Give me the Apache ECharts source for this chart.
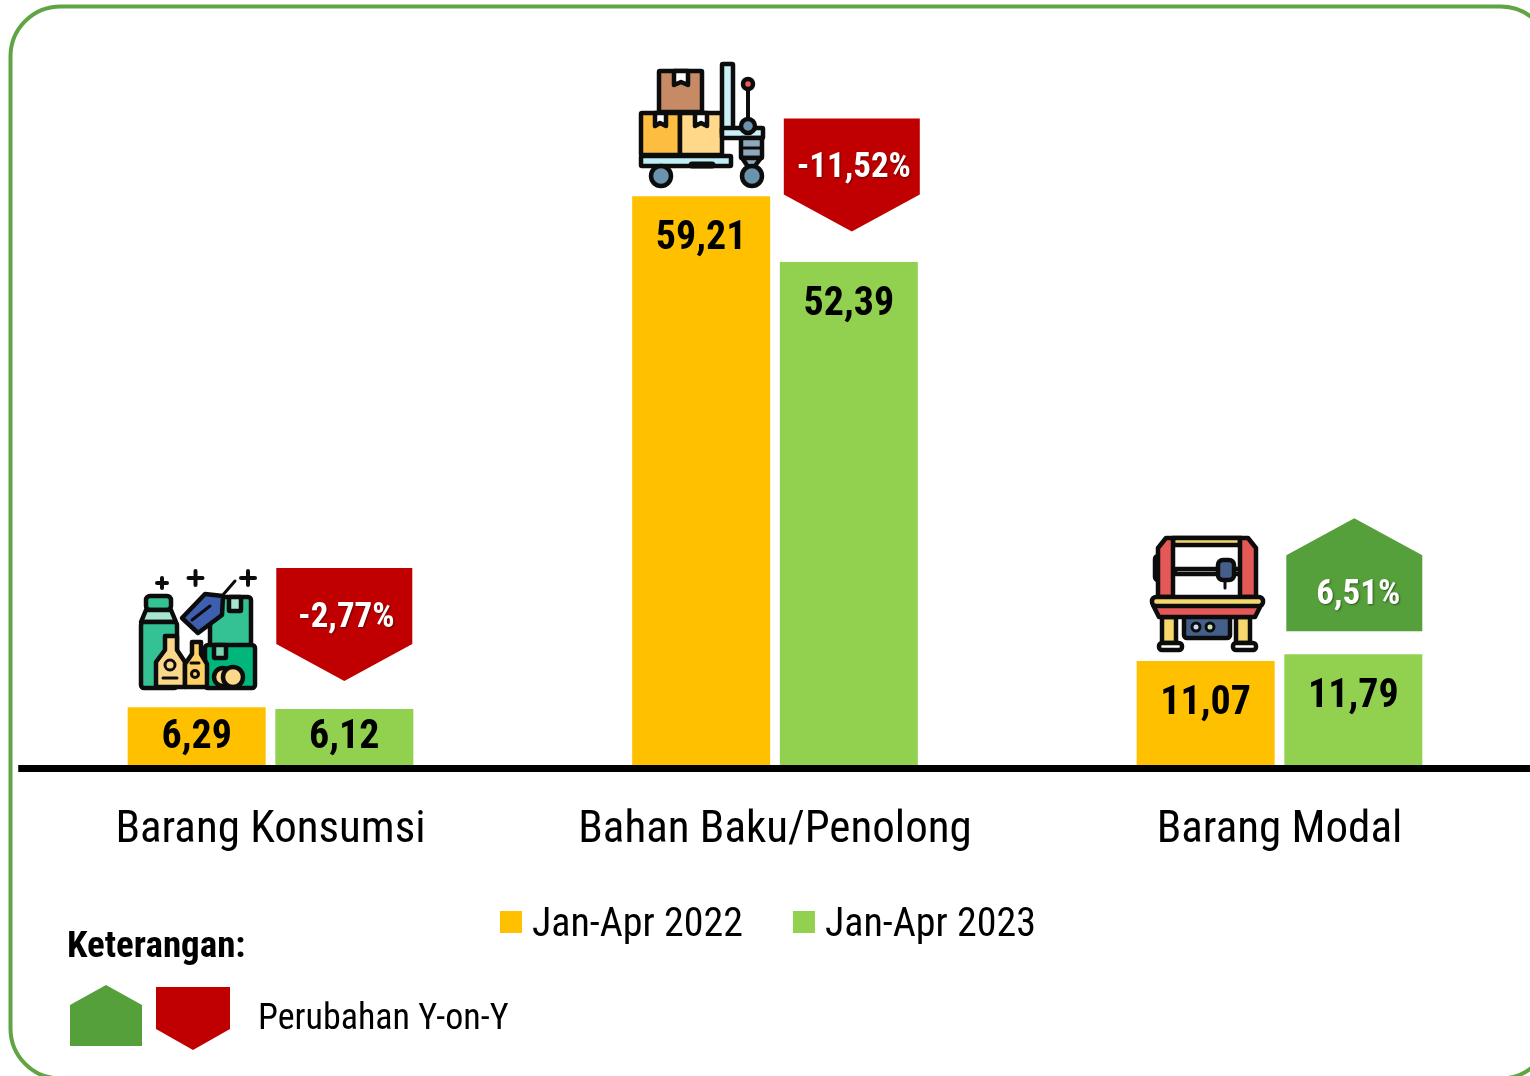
<!DOCTYPE html>
<html>
<head>
<meta charset="utf-8">
<title>Barang Konsumsi, Bahan Baku/Penolong, Barang Modal</title>
<script src="https://cdn.jsdelivr.net/npm/echarts@6/dist/echarts.min.js"></script>
<style>
  html, body { margin: 0; padding: 0; background: #fff; }
  #chart { width: 1530px; height: 1076px; }
</style>
</head>
<body>
<div id="chart"></div>
<script>
const categories = ['Barang Konsumsi', 'Bahan Baku/Penolong', 'Barang Modal']
const series2022 = [6.29, 59.21, 11.07]
const series2023 = [6.12, 52.39, 11.79]
const changes = [-2.77, -11.52, 6.51]

const NARROW = '"Roboto Condensed", "Liberation Sans", sans-serif'
const K = '#0c0c0c'
const fmt = v => v.toFixed(2).replace('.', ',')

// badge placement relative to the 2023 bar (px)
const badgeLift = [28, 30.5, 23]
const badgeShift = [0, 3, 1]

// small helpers for the pictograms
const rect = (x, y, w, h, fill, r) => ({ type: 'rect', shape: { x, y, width: w, height: h, r: r || 1 }, style: { fill, stroke: K, lineWidth: 4.5 } })
const poly = (points, fill) => ({ type: 'polygon', shape: { points }, style: { fill, stroke: K, lineWidth: 4.5, lineJoin: 'round' } })
const circle = (cx, cy, r, fill, lw) => ({ type: 'circle', shape: { cx, cy, r }, style: { fill, stroke: K, lineWidth: lw === undefined ? 4.5 : lw } })
const line = (x1, y1, x2, y2, w) => ({ type: 'line', shape: { x1, y1, x2, y2 }, style: { stroke: K, lineWidth: w || 4, lineCap: 'round' } })
const plus = (x, y, s) => [line(x - s, y, x + s, y), line(x, y - s, x, y + s)]

const iconConsumer = [
  ...plus(162, 583, 5), ...plus(195.5, 578, 7), ...plus(248, 578, 7),
  rect(210, 597, 41, 50, '#34C295', 3), rect(229, 597, 12, 14, '#A8E5CF'),
  rect(146, 596, 25, 14, '#34C295', 4),
  poly([[146, 610], [171, 610], [176, 622], [141, 622]], '#A8E5CF'),
  rect(141, 622, 36, 66, '#34C295', 3),
  poly([[182, 618], [205, 594], [223, 596], [222, 615], [198, 633]], '#3E5FB0'),
  line(222, 596, 235, 581, 3), line(192, 620, 210, 606, 3),
  rect(205, 645, 50, 43, '#00B67C', 3), rect(214, 645, 12, 13, '#7BD5B0'),
  poly([[165, 636], [177, 636], [177, 650], [185, 662], [185, 687], [156, 687], [156, 662], [165, 650]], '#FBD78A'),
  circle(170, 665, 5, '#FBD78A', 3), line(163, 678, 177, 678, 3),
  poly([[192, 642], [201, 642], [201, 654], [207, 664], [207, 687], [185, 687], [185, 664], [192, 654]], '#FDD066'),
  circle(195, 674, 3.5, '#FDD066', 3), line(191, 663, 199, 663, 3),
  circle(223, 677, 9, '#FBD78A'), circle(233, 677, 10, '#FBD78A')
]

const iconTrolley = [
  rect(659, 71, 43, 41, '#C68B64'),
  poly([[674, 71], [688, 71], [688, 85], [681, 82], [674, 85]], '#FFF'),
  rect(641, 113, 39, 42, '#FDBD40'),
  poly([[655, 113], [666, 113], [666, 126], [660, 123], [655, 126]], '#FFF'),
  rect(680, 113, 42, 42, '#FFD88A'),
  poly([[695, 113], [707, 113], [707, 126], [701, 123], [695, 126]], '#FFF'),
  rect(722, 64, 11, 70, '#C9F1F7'),
  rect(641, 156, 90, 10, '#BFEEF5'),
  line(692, 165, 712, 165, 7),
  rect(722, 128, 41, 10, '#C9F1F7'),
  line(748, 88, 748, 120, 4), circle(748, 84, 5, '#F25A5A'),
  circle(748, 126, 7, '#6A93AE'),
  rect(741, 138, 21, 20, '#8FA8BC'), line(742, 148, 761, 148, 3),
  poly([[742, 158], [761, 158], [751, 171]], '#8FA8BC'),
  circle(661, 176, 10, '#6A93AE'), circle(752, 176, 10, '#6A93AE')
]

const iconMachine = [
  rect(1155, 556, 9, 24, '#F5D76E', 3),
  rect(1172, 538, 70, 60, '#FFF', 1),
  rect(1173, 538, 67, 7, '#F5D76E'),
  rect(1175, 569, 65, 5, '#FFF'),
  poly([[1166, 538], [1173, 538], [1173, 597], [1158, 597], [1158, 548]], '#E45858'),
  poly([[1240, 538], [1248, 538], [1256, 548], [1256, 597], [1240, 597]], '#E45858'),
  rect(1218, 560, 16, 20, '#44608A', 5), line(1225, 580, 1225, 588, 3),
  rect(1162, 617, 14, 26, '#F5D76E'), rect(1236, 617, 14, 26, '#F5D76E'),
  rect(1184, 616, 46, 22, '#44608A', 3),
  circle(1196, 627, 4, '#CBD8F5', 3), circle(1210, 627, 4, '#BFE5B5', 3),
  poly([[1153, 605], [1261, 605], [1255, 617], [1159, 617]], '#E45858'),
  rect(1152, 597, 111, 9, '#F5D76E', 4),
  rect(1159, 643, 23, 7, '#FFF', 3), rect(1233, 643, 23, 7, '#FFF', 3)
]

const graphicElements = [
  // green rounded frame, runs off the right and bottom of the page
  { type: 'rect', silent: true, shape: { x: 10.5, y: 6.5, width: 1540, height: 1072, r: 50 }, style: { fill: 'none', stroke: '#5FA544', lineWidth: 4 } },
  { type: 'text', style: { x: 67, y: 948, text: 'Keterangan:', fill: '#000', font: 'bold 37px ' + NARROW, textVerticalAlign: 'middle' } },
  { type: 'polygon', shape: { points: [[70, 1005], [106, 985], [142, 1005], [142, 1046], [70, 1046]] }, style: { fill: '#55A03A' } },
  { type: 'polygon', shape: { points: [[156, 987], [230, 987], [230, 1029], [193, 1050], [156, 1029]] }, style: { fill: '#C00000' } },
  { type: 'text', style: { x: 258, y: 1020, text: 'Perubahan Y-on-Y', fill: '#000', font: '36px ' + NARROW, textVerticalAlign: 'middle' } },
  ...iconConsumer, ...iconTrolley, ...iconMachine
]

function barData(values) {
  return values.map((v, i) => ({
    value: v,
    label: i === 0 ? { position: 'inside' } : { position: 'insideTop', distance: 23 }
  }))
}

function renderBadge(params, api) {
  const i = api.value(0)
  const change = api.value(2)
  const top = api.coord([i, api.value(1)])
  const cx = top[0] + 73.8 + badgeShift[i]
  const halfW = 68
  const edge = top[1] - badgeLift[i]
  const up = change > 0
  const points = up
    ? [[cx - halfW, edge], [cx + halfW, edge], [cx + halfW, edge - 76], [cx, edge - 113], [cx - halfW, edge - 76]]
    : [[cx - halfW, edge - 37], [cx, edge], [cx + halfW, edge - 37], [cx + halfW, edge - 113], [cx - halfW, edge - 113]]
  return {
    type: 'group',
    children: [
      { type: 'polygon', shape: { points }, style: { fill: up ? '#55A03A' : '#C00000' } },
      {
        type: 'text',
        style: {
          x: cx + (up ? 4 : 2),
          y: up ? edge - 36 : edge - 63,
          text: fmt(change) + '%',
          fill: '#fff',
          font: 'bold 35px ' + NARROW,
          textAlign: 'center',
          textVerticalAlign: 'middle',
          textShadowColor: 'rgba(0,0,0,0.45)',
          textShadowBlur: 2,
          textShadowOffsetX: 1,
          textShadowOffsetY: 1
        }
      }
    ]
  }
}

const barLabel = {
  show: true,
  color: '#000',
  fontFamily: NARROW,
  fontWeight: 'bold',
  fontSize: 40,
  formatter: p => fmt(p.value)
}

const option = {
  animation: false,
  backgroundColor: '#fff',
  grid: { left: 18.25, top: 92, width: 1513.5, height: 676, outerBoundsMode: 'none' },
  legend: {
    data: ['Jan-Apr 2022', 'Jan-Apr 2023'],
    left: 495,
    top: 900.5,
    icon: 'rect',
    itemWidth: 22,
    itemHeight: 22,
    itemGap: 50,
    formatter: name => '{t|' + name + '}',
    textStyle: {
      color: '#000',
      fontFamily: NARROW,
      fontSize: 40,
      rich: { t: { color: '#000', fontFamily: NARROW, fontSize: 40, padding: [7, 0, 0, 5] } }
    }
  },
  xAxis: {
    type: 'category',
    data: categories,
    z: 5,
    axisLine: { lineStyle: { color: '#000', width: 7, cap: 'butt' } },
    axisTick: { show: false },
    axisLabel: { color: '#000', fontFamily: NARROW, fontSize: 45, margin: 40, interval: 0, hideOverlap: false }
  },
  yAxis: { type: 'value', min: 0, max: 70, show: false },
  series: [
    { name: 'Jan-Apr 2022', type: 'bar', barWidth: 138, barGap: '7%', itemStyle: { color: '#FFC000' }, label: barLabel, data: barData(series2022) },
    { name: 'Jan-Apr 2023', type: 'bar', barWidth: 138, barGap: '7%', itemStyle: { color: '#92D050' }, label: barLabel, data: barData(series2023) },
    {
      name: 'Perubahan Y-on-Y',
      type: 'custom',
      renderItem: renderBadge,
      z: 5,
      encode: { x: 0, y: 1 },
      data: changes.map((c, i) => [i, series2023[i], c])
    }
  ],
  graphic: { elements: graphicElements }
}

let myChart = echarts.init(document.getElementById('chart'))
myChart.setOption(option)
</script>
</body>
</html>
